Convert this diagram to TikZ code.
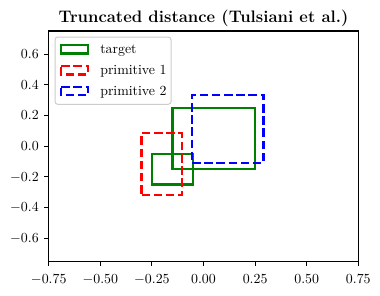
\documentclass[tikz,border=0pt]{standalone}
\usepackage{xcolor}
\definecolor{mplgreen}{HTML}{008000}
\definecolor{mplred}{HTML}{FF0000}
\definecolor{mplblue}{HTML}{0000FF}
\begin{document}
\begin{tikzpicture}[x=0.72pt,y=-0.72pt,
  plotline/.style={line width=1.66pt,line join=miter},
  solidbox/.style={plotline,draw=mplgreen},
  dashbox/.style={plotline,dash pattern=on 6.1pt off 2.66pt},
  ticklab/.style={inner sep=0pt,font=\normalsize},
  legtext/.style={inner sep=0pt,anchor=base west}]
\useasboundingbox (0,0) rectangle (380,295);
% title
\node[inner sep=0pt,anchor=base,font=\fontsize{12}{14}\selectfont\bfseries] (title) at (203.5,22.7) {Truncated distance (Tulsiani et al.)};
% data scope
\begin{scope}[shift={(203.5,146.15)},x=148.6pt,y=110.5pt]
  % target
  \draw[solidbox] (-0.15,-0.15) -- (0.25,-0.15) -- (0.25,0.25) -- (-0.15,0.25) -- cycle;
  \draw[solidbox] (-0.25,-0.25) -- (-0.05,-0.25) -- (-0.05,-0.05) -- (-0.25,-0.05) -- cycle;
  % primitive 1
  \draw[dashbox,draw=mplred] (-0.3,-0.32) -- (-0.105,-0.32) -- (-0.105,0.085) -- (-0.3,0.085) -- cycle;
  % primitive 2
  \draw[dashbox,draw=mplblue] (-0.055,-0.11) -- (0.29,-0.11) -- (0.29,0.335) -- (-0.055,0.335) -- cycle;
  % axes frame
  \draw[line width=0.8pt] (-0.75,-0.75) rectangle (0.75,0.75);
  % x ticks
  \foreach \v/\t in {-0.75/-0.75,-0.5/-0.50,-0.25/-0.25,0/0.00,0.25/0.25,0.5/0.50,0.75/0.75}{
    \draw[line width=0.8pt] (\v,-0.75) -- ++(0,-3.3pt);
    \node[ticklab,anchor=base,yshift=-15.84pt] at (\v,-0.75) {$\t$};
  }
  % y ticks
  \foreach \v/\t in {-0.6/-0.6,-0.4/-0.4,-0.2/-0.2,0/0.0,0.2/0.2,0.4/0.4,0.6/0.6}{
    \draw[line width=0.8pt] (-0.75,\v) -- ++(-3.3pt,0);
    \node[ticklab,anchor=base east,xshift=-7pt,yshift=-3.1pt] at (-0.75,\v) {$\t$};
  }
\end{scope}
% legend
\draw[fill=white,draw=black!20,line width=0.72pt,rounded corners=2pt] (55,37) rectangle (171,104.3);
\draw[solidbox] (61.2,45.2) rectangle (87.8,53.6);
\draw[dashbox,draw=mplred] (61.2,66.1) -- (87.8,66.1) -- (87.8,74.5) -- (61.2,74.5) -- cycle;
\draw[dashbox,draw=mplblue] (61.2,86.9) -- (87.8,86.9) -- (87.8,95.3) -- (61.2,95.3) -- cycle;
\node[legtext] (l1) at (100,53.7) {target};
\node[legtext] (l2) at (100,74.6) {primitive 1};
\node[legtext] (l3) at (100,95.4) {primitive 2};
\end{tikzpicture}
\end{document}
